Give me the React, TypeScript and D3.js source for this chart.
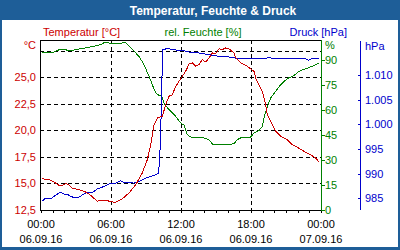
import React from 'react';
import * as d3 from 'd3';

const tempHours = [0.06, 0.69, 1.11, 1.54, 1.83, 2.12, 2.4, 2.68, 3.26, 3.83, 4.26, 4.83, 5.12, 5.55, 6.26, 6.4, 6.97, 7.54, 8.12, 8.68, 9.11, 9.4, 9.69, 9.97, 10.4, 10.69, 10.97, 11.25, 11.55, 11.83, 12.11, 12.4, 12.69, 12.97, 13.26, 13.54, 13.83, 14.12, 14.4, 14.68, 14.97, 15.26, 15.54, 15.83, 16.11, 16.54, 16.69, 17.12, 17.55, 17.97, 18.26, 18.4, 18.69, 18.97, 19.26, 19.4, 19.69, 20.12, 20.55, 21.11, 21.54, 21.97, 22.54, 23.12, 23.55, 23.83];
const tempValues = [15.45, 15.35, 15.14, 14.82, 14.82, 14.98, 14.88, 14.57, 14.41, 14.19, 13.88, 13.32, 13.41, 13.41, 13.22, 13.25, 13.56, 14.1, 14.88, 15.98, 17.23, 18.65, 20.53, 21.16, 21.32, 22.41, 23.2, 23.35, 24.14, 24.61, 25.08, 25.55, 26.24, 26.34, 26.03, 26.18, 26.65, 26.43, 26.81, 27.28, 27.21, 27.68, 27.59, 27.75, 27.68, 27.28, 26.81, 26.34, 26.12, 25.8, 25.55, 24.92, 24.29, 23.67, 22.41, 21.47, 20.85, 19.91, 19.44, 19.12, 18.65, 18.4, 18.02, 17.7, 17.39, 17.02];

const humHours = [0.06, 1.1, 1.7, 2.5, 4.1, 4.5, 5.1, 5.4, 5.66, 6.26, 7.26, 7.7, 8.4, 8.83, 9.26, 9.54, 9.83, 10.1, 10.35, 10.54, 10.97, 11.55, 11.97, 12.26, 12.54, 12.83, 13.54, 13.97, 14.4, 14.68, 15.54, 16.1, 16.54, 16.83, 17.25, 17.97, 18.26, 18.69, 18.97, 19.11, 19.4, 19.69, 20.1, 20.55, 21.1, 21.7, 22.1, 22.7, 23.25, 23.83];
const humValues = [94.8, 94.8, 96.6, 95.6, 97.6, 98.2, 99.2, 100.4, 100.4, 99.8, 100.4, 97.2, 92.2, 87.2, 80.2, 75.2, 70.2, 68.8, 68.2, 64.2, 60.2, 56.2, 52.2, 51, 45.2, 43.8, 43.6, 43.2, 42.2, 39.6, 39.6, 39.2, 39.8, 42.2, 43.8, 43.8, 46.2, 47.8, 50.2, 55.2, 62.2, 67.2, 71.2, 75.2, 78.8, 80.8, 83.2, 84.8, 86.2, 88.2];

const pressHours = [0.06, 0.4, 0.83, 1.11, 1.4, 1.69, 1.97, 2.25, 2.55, 2.83, 3.26, 3.54, 3.97, 4.4, 4.83, 5.4, 5.83, 6.26, 6.54, 6.83, 7.11, 7.54, 7.97, 8.4, 8.83, 9.4, 9.83, 10.05, 10.17, 10.26, 10.35, 10.4, 10.83, 11.55, 12.26, 12.69, 13.54, 14.4, 15.26, 16.4, 16.83, 18.26, 19.54, 21.54, 22.69, 22.92, 23.14, 23.83];
const pressValues = [984.33, 985.0, 984.86, 985.35, 985.81, 986.22, 985.81, 985.81, 985.35, 985.14, 985.2, 985.67, 986.16, 986.16, 986.89, 987.38, 987.91, 987.91, 988.25, 988.52, 988.19, 988.19, 988.05, 988.39, 988.92, 989.41, 989.74, 990.08, 992.46, 999.23, 1005.33, 1015.14, 1015.35, 1015.08, 1014.94, 1014.67, 1014.47, 1014.13, 1013.8, 1013.6, 1013.31, 1013.31, 1013.46, 1013.31, 1013.25, 1012.99, 1013.25, 1013.25];

const timeTicks = [0, 6, 12, 18, 24];
const timeLabels = ['00:00', '06:00', '12:00', '18:00', '00:00'];
const dateLabels = ['06.09.16', '06.09.16', '06.09.16', '06.09.16', '07.09.16'];
const tempTicks = [12.5, 15, 17.5, 20, 22.5, 25, 27.5];
const tempLabelTicks = [12.5, 15, 17.5, 20, 22.5, 25];
const humTicks = [0, 15, 30, 45, 60, 75, 90];
const pressTicks = [985, 990, 995, 1000, 1005, 1010];

const title = 'Temperatur, Feuchte & Druck';
const seriesNames = ['Temperatur [°C]', 'rel. Feuchte [%]', 'Druck [hPa]'];

const RED = '#cc0000';
const GREEN = '#008000';
const BLUE = '#0000cc';
const FRAME = '#1e5e98';
const FONT = '"Liberation Sans", Arial, sans-serif';

const de = d3.formatLocale({ decimal: ',', thousands: '.', grouping: [3], currency: ['', '€'] });
const fmtTemp = de.format('.1f');
const fmtPress = de.format(',.0f');

export default function App() {
  const left = 40, right = 321, top = 40, bottom = 210;
  const x = d3.scaleLinear().domain([0, 24]).range([41, 321]);
  const yT = d3.scaleLinear().domain([12.5, 28.5]).range([bottom, top]);
  const yH = d3.scaleLinear().domain([0, 102]).range([bottom, top]);
  const yP = d3.scaleLinear().domain([982.6, 1017.1]).range([bottom, top]);

  const mk = (hs: number[], vs: number[], ys: d3.ScaleLinear<number, number>) =>
    d3.line<number>().x((_, i) => x(hs[i])).y((v) => ys(v))(vs) || '';

  const px = (v: number) => Math.round(v) + 0.5;
  const hours = d3.range(0, 25);

  return (
    <svg width={400} height={250} style={{ position: 'absolute', left: 0, top: 0 }} fontFamily={FONT}>
      <rect x={0} y={0} width={400} height={250} fill={FRAME} />
      <rect x={2} y={20} width={396} height={227} fill="#ffffff" />
      <text x={213} y={15} fill="#ffffff" fontSize={12} fontWeight="bold" textAnchor="middle">{title}</text>

      <text x={43} y={36} fill={RED} fontSize={11}>{seriesNames[0]}</text>
      <text x={203} y={36} fill={GREEN} fontSize={11} textAnchor="middle">{seriesNames[1]}</text>
      <text x={347} y={36} fill={BLUE} fontSize={11} textAnchor="end">{seriesNames[2]}</text>

      {/* grid */}
      <g stroke="#000" strokeDasharray="4,3" shapeRendering="crispEdges">
        {tempTicks.map((t) => (
          <line key={'h' + t} x1={left} x2={right} y1={px(yT(t))} y2={px(yT(t))} />
        ))}
        {timeTicks.slice(1, 4).map((t) => (
          <line key={'v' + t} x1={px(x(t))} x2={px(x(t))} y1={top} y2={bottom} />
        ))}
      </g>

      {/* frame lines */}
      <g stroke="#000" shapeRendering="crispEdges">
        <line x1={left + 0.5} x2={left + 0.5} y1={top} y2={bottom + 1} />
        <line x1={left} x2={right} y1={top + 0.5} y2={top + 0.5} />
        <line x1={left} x2={right} y1={bottom + 0.5} y2={bottom + 0.5} />
        {hours.map((h) => (
          <line key={'t' + h} x1={px(x(h))} x2={px(x(h))} y1={bottom} y2={bottom + 3} />
        ))}
      </g>

      {/* left axis labels */}
      <g fill={RED} fontSize={11} textAnchor="end">
        <text x={36} y={49}>°C</text>
        {tempLabelTicks.map((t) => (
          <text key={t} x={36} y={yT(t) + 4}>{fmtTemp(t)}</text>
        ))}
      </g>

      {/* humidity axis */}
      <g shapeRendering="crispEdges" stroke={GREEN}>
        <line x1={right + 0.5} x2={right + 0.5} y1={top} y2={bottom + 1} />
        {humTicks.map((t) => (
          <line key={t} x1={right} x2={right + 4} y1={px(yH(t))} y2={px(yH(t))} />
        ))}
      </g>
      <g fill={GREEN} fontSize={11}>
        <text x={325} y={49}>%</text>
        {humTicks.map((t) => (
          <text key={t} x={325} y={yH(t) + 4}>{t}</text>
        ))}
      </g>

      {/* pressure axis */}
      <g shapeRendering="crispEdges" stroke={BLUE}>
        <line x1={360.5} x2={360.5} y1={41} y2={210} />
        {pressTicks.map((t) => (
          <line key={t} x1={358} x2={361} y1={px(yP(t))} y2={px(yP(t))} />
        ))}
      </g>
      <g fill={BLUE} fontSize={11}>
        <text x={365} y={50}>hPa</text>
        {pressTicks.map((t) => (
          <text key={t} x={365} y={yP(t) + 4}>{fmtPress(t)}</text>
        ))}
      </g>

      {/* time labels */}
      <g fill="#000" fontSize={11} textAnchor="middle">
        {timeTicks.map((t, i) => (
          <text key={'tl' + i} x={x(t)} y={228}>{timeLabels[i]}</text>
        ))}
        {timeTicks.map((t, i) => (
          <text key={'dl' + i} x={x(t)} y={243}>{dateLabels[i]}</text>
        ))}
      </g>

      {/* series */}
      <g fill="none" strokeWidth={1} shapeRendering="crispEdges">
        <path d={mk(humHours, humValues, yH)} stroke={GREEN} />
        <path d={mk(pressHours, pressValues, yP)} stroke={BLUE} />
        <path d={mk(tempHours, tempValues, yT)} stroke={RED} />
      </g>
    </svg>
  );
}
